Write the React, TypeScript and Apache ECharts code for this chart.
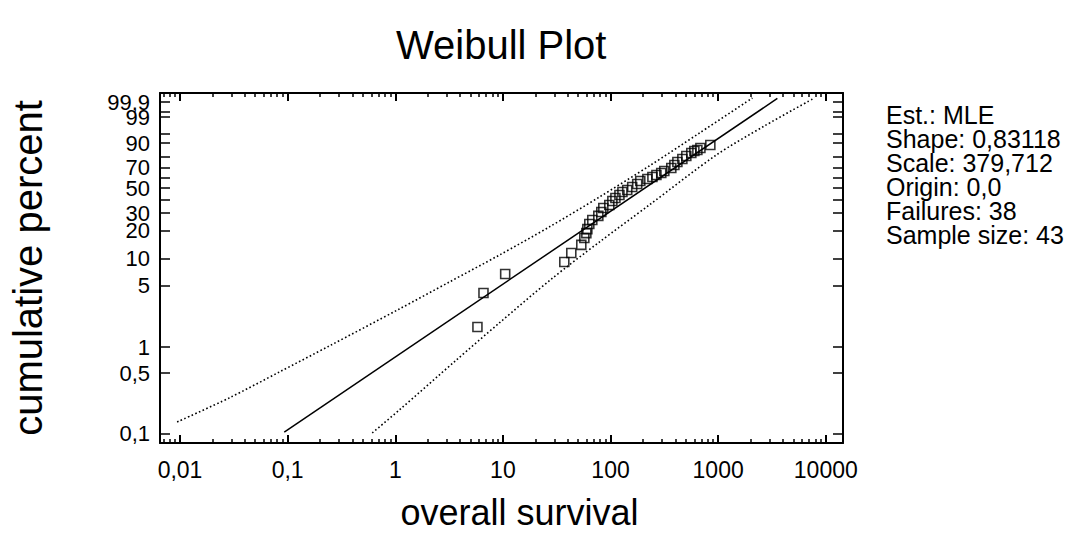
import React, { useEffect, useRef } from "react";
import * as echarts from "echarts";

// ---- Data ----
const xTickValues = [0.01, 0.1, 1, 10, 100, 1000, 10000];
const xTickLabels = ["0,01", "0,1", "1", "10", "100", "1000", "10000"];
const xMinorValues = [
  0.002, 0.003, 0.004, 0.005, 0.006, 0.007, 0.008, 0.009,
  0.02, 0.03, 0.04, 0.05, 0.06, 0.07, 0.08, 0.09,
  0.2, 0.3, 0.4, 0.5, 0.6, 0.7, 0.8, 0.9,
  2, 3, 4, 5, 6, 7, 8, 9,
  20, 30, 40, 50, 60, 70, 80, 90,
  200, 300, 400, 500, 600, 700, 800, 900,
  2000, 3000, 4000, 5000, 6000, 7000, 8000, 9000,
];
const yTickPercents = [0.1, 0.5, 1, 5, 10, 20, 30, 40, 50, 60, 70, 80, 90, 95, 99, 99.5, 99.9];
const yLabelPercents = [0.1, 0.5, 1, 5, 10, 20, 30, 50, 70, 90, 99, 99.9];
const yLabelTexts = ["0,1", "0,5", "1", "5", "10", "20", "30", "50", "70", "90", "99", "99,9"];

const survivalTimes = [
  5.8, 6.6, 10.5, 37.2, 43.2, 53.5, 57.1, 59.6, 60.9, 63.5, 67.7, 77.0, 82.1,
  85.7, 97.4, 104, 111, 121, 129, 143, 159, 177, 189, 220, 245, 267, 296,
  316, 367, 392, 418, 465, 506, 563, 601, 641, 684, 846,
];
const cumulativePercents = [
  1.7, 4.15, 6.8, 9.24, 11.6, 14.2, 16.8, 18.9, 20.8, 23.4, 25.7, 28.2, 30.8,
  33.6, 35.8, 38.9, 41.4, 43.9, 46.6, 48.4, 51.2, 54.0, 56.9, 58.8, 60.8, 62.7,
  64.7, 66.6, 69.5, 72.4, 75.2, 77.9, 80.6, 83.0, 84.6, 85.4, 86.8, 88.9,
];

const fitTimes = [0.093, 3550];
const fitPercents = [0.104, 99.95];

const upperTimes = [0.0094, 0.0286, 0.0835, 0.2436, 1.09, 3.18, 9.26, 27.0, 78.7, 229, 669, 2080];
const upperPercents = [0.136, 0.258, 0.514, 1.028, 2.73, 5.53, 11.0, 21.9, 42.2, 71.5, 95.1, 99.954];

const lowerTimes = [0.611, 1.09, 3.69, 9.26, 28.2, 78.7, 229, 962, 2687, 7834];
const lowerPercents = [0.1015, 0.187, 0.707, 1.89, 5.97, 15.2, 35.8, 81.4, 97.39, 99.954];

const statsLines = [
  "Est.: MLE",
  "Shape: 0,83118",
  "Scale: 379,712",
  "Origin: 0,0",
  "Failures: 38",
  "Sample size: 43",
];

// ---- Scale transforms (log10 for time, Weibull probability for percent) ----
const tx = (t: number) => Math.log10(t);
const wy = (p: number) => Math.log(-Math.log(1 - p / 100));

const X_MIN = -2.186;
const X_MAX = 4.16;
const Y_MIN = -7.16;
const Y_MAX = 2.173;

const FONT = "'Liberation Sans', Arial, Helvetica, sans-serif";

const pairs = (ts: number[], ps: number[]) => ts.map((t, i) => [tx(t), wy(ps[i])]);

export default function App() {
  const ref = useRef<HTMLDivElement>(null);

  useEffect(() => {
    if (!ref.current) return;
    const chart = echarts.init(ref.current, undefined, { renderer: "svg" });

    const xMajor = xTickValues.map(tx);
    const xMinor = xMinorValues.map(tx);
    const yTicks = yTickPercents.map(wy);
    const yLabelsAll = yLabelPercents.map(wy);
    // the top label (99,9) sits on its own axis so ECharts' min/max overlap fix keeps both 99 and 99,9
    const yLabelsMain = yLabelsAll.slice(0, -1);
    const yLabelsTop = yLabelsAll.slice(-1);

    const nearestLabel = (v: number, vals: number[], texts: string[]) => {
      let best = 0;
      for (let i = 1; i < vals.length; i++) {
        if (Math.abs(vals[i] - v) < Math.abs(vals[best] - v)) best = i;
      }
      return texts[best];
    };

    const lineOn = { show: true, onZero: false, lineStyle: { color: "#000", width: 2 } };
    const lineOff = { show: false, onZero: false };

    const baseX = {
      type: "value",
      min: X_MIN,
      max: X_MAX,
      splitLine: { show: false },
    };
    const baseY = {
      type: "value",
      min: Y_MIN,
      max: Y_MAX,
      splitLine: { show: false },
    };
    const yLabelStyle = {
      show: true,
      margin: 10,
      hideOverlap: false,
      fontFamily: FONT,
      fontSize: 22,
      color: "#000",
      formatter: (v: number) => nearestLabel(v, yLabelsAll, yLabelTexts),
    };

    chart.setOption({
      animation: false,
      backgroundColor: "#fff",
      textStyle: { fontFamily: FONT, color: "#000" },
      title: {
        text: "Weibull Plot",
        left: 391,
        top: 20,
        textStyle: { fontFamily: FONT, fontSize: 40, fontWeight: "normal", color: "#000" },
      },
      grid: {
        left: 160,
        right: 244,
        top: 93,
        bottom: 91,
        containLabel: false,
        outerBoundsMode: "none",
      },
      xAxis: [
        {
          ...baseX,
          position: "bottom",
          name: "overall survival",
          nameLocation: "middle",
          nameGap: 52,
          nameTextStyle: {
            fontFamily: FONT,
            fontSize: 36,
            lineHeight: 34,
            color: "#000",
            padding: [0, 0, 0, 36],
          },
          axisLine: lineOn,
          axisTick: {
            show: true,
            inside: true,
            length: 8,
            customValues: xMajor,
            lineStyle: { color: "#000", width: 2 },
          },
          axisLabel: {
            show: true,
            margin: 15,
            customValues: xMajor,
            hideOverlap: false,
            fontFamily: FONT,
            fontSize: 23,
            color: "#000",
            formatter: (v: number) => nearestLabel(v, xMajor, xTickLabels),
          },
        },
        {
          ...baseX,
          position: "bottom",
          axisLine: lineOff,
          axisLabel: { show: false },
          axisTick: {
            show: true,
            inside: true,
            length: 4,
            customValues: xMinor,
            lineStyle: { color: "#000", width: 1.5 },
          },
        },
        {
          ...baseX,
          position: "top",
          axisLine: lineOn,
          axisLabel: { show: false },
          axisTick: {
            show: true,
            inside: true,
            length: 8,
            customValues: xMajor,
            lineStyle: { color: "#000", width: 2 },
          },
        },
        {
          ...baseX,
          position: "top",
          axisLine: lineOff,
          axisLabel: { show: false },
          axisTick: {
            show: true,
            inside: true,
            length: 4,
            customValues: xMinor,
            lineStyle: { color: "#000", width: 1.5 },
          },
        },
      ],
      yAxis: [
        {
          ...baseY,
          position: "left",
          name: "cumulative percent",
          nameLocation: "middle",
          nameRotate: 90,
          nameGap: 112,
          nameTextStyle: { fontFamily: FONT, fontSize: 40, color: "#000" },
          axisLine: lineOn,
          axisTick: {
            show: true,
            inside: true,
            length: 10,
            customValues: yTicks,
            lineStyle: { color: "#000", width: 1.5 },
          },
          axisLabel: { ...yLabelStyle, customValues: yLabelsMain },
        },
        {
          ...baseY,
          position: "right",
          axisLine: lineOn,
          axisLabel: { show: false },
          axisTick: {
            show: true,
            inside: true,
            length: 10,
            customValues: yTicks,
            lineStyle: { color: "#000", width: 1.5 },
          },
        },
        {
          ...baseY,
          position: "left",
          axisLine: lineOff,
          axisTick: { show: false },
          axisLabel: { ...yLabelStyle, customValues: yLabelsTop },
        },
      ],
      graphic: [
        {
          type: "text",
          left: 886,
          top: 102,
          style: {
            text: statsLines.join("\n"),
            font: `25px ${FONT}`,
            lineHeight: 24.2,
            fill: "#000",
          },
        },
      ],
      series: [
        {
          name: "upper",
          type: "line",
          xAxisIndex: 0,
          yAxisIndex: 0,
          data: pairs(upperTimes, upperPercents),
          showSymbol: false,
          smooth: 0.3,
          lineStyle: { color: "#000", width: 1.6, type: [1.6, 2.4] },
          silent: true,
        },
        {
          name: "lower",
          type: "line",
          xAxisIndex: 0,
          yAxisIndex: 0,
          data: pairs(lowerTimes, lowerPercents),
          showSymbol: false,
          smooth: 0.3,
          lineStyle: { color: "#000", width: 1.6, type: [1.6, 2.4] },
          silent: true,
        },
        {
          name: "fit",
          type: "line",
          xAxisIndex: 0,
          yAxisIndex: 0,
          data: pairs(fitTimes, fitPercents),
          showSymbol: false,
          lineStyle: { color: "#000", width: 1.5 },
          silent: true,
        },
        {
          name: "observations",
          type: "scatter",
          xAxisIndex: 0,
          yAxisIndex: 0,
          data: pairs(survivalTimes, cumulativePercents),
          symbol: "rect",
          symbolSize: 9,
          itemStyle: { color: "rgba(255,255,255,0)", borderColor: "#000", borderWidth: 1.6 },
          silent: true,
        },
      ],
    });

    return () => chart.dispose();
  }, []);

  return (
    <div
      ref={ref}
      style={{ position: "fixed", left: 0, top: 0, width: 1087, height: 534, background: "#fff" }}
    />
  );
}
